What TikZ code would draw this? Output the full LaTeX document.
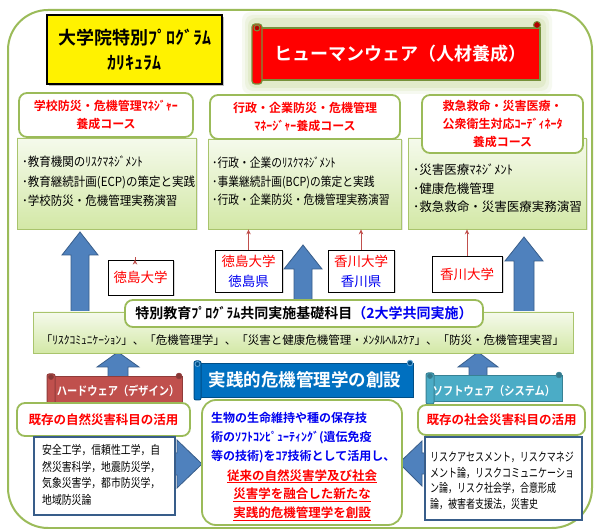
\documentclass[tikz,border=0pt]{standalone}
\usepackage{fontspec}
\setmainfont{Noto Sans CJK JP}[BoldFont={Noto Sans CJK JP Bold}]
\newfontfamily\narrowf{Noto Sans CJK JP}[FakeStretch=0.82]
\newfontfamily\narrowff{Noto Sans CJK JP}[FakeStretch=0.75]
\newfontfamily\narrowm{Noto Sans CJK JP}[FakeStretch=0.86]
\newfontfamily\narrowl{Noto Sans CJK JP}[FakeStretch=0.92]
\newfontfamily\narrowb{Noto Sans CJK JP Bold}[FakeStretch=0.85]
\usetikzlibrary{shadows,arrows.meta}
\definecolor{fgreen}{HTML}{9BBB59}
\definecolor{gtop}{HTML}{F5FAEC}
\definecolor{gbot}{HTML}{D3E8A6}
\definecolor{cbord}{HTML}{A9C46C}
\definecolor{abl}{HTML}{4F81BD}
\definecolor{abld}{HTML}{385D8A}
\definecolor{hwred}{HTML}{C0504D}
\definecolor{swteal}{HTML}{4BACC6}
\definecolor{bnblue}{HTML}{0070C0}
\definecolor{olivebd}{HTML}{76923C}
\definecolor{glowg}{HTML}{C9DB9F}
\definecolor{tblue}{HTML}{0000F0}
\definecolor{thinred}{HTML}{C0504D}
\newcommand\fsz[2]{\fontsize{#1}{#2}\selectfont}
\tikzset{
  hdr/.style={draw=fgreen, line width=1.8pt, fill=white, rounded corners=8pt, inner sep=0pt, align=center, text=red, font=\bfseries\fsz{12}{18}},
  cont/.style={draw=cbord, line width=0.8pt, top color=gtop, bottom color=gbot, inner sep=0pt, drop shadow={opacity=0.2, shadow xshift=1.5pt, shadow yshift=-1.5pt}},
  ctext/.style={align=left, anchor=west, inner sep=0pt},
  lbl/.style={draw=black, line width=0.8pt, fill=white, inner sep=0pt, align=center, font=\fsz{13.5}{20}, drop shadow={opacity=0.3, shadow xshift=1.5pt, shadow yshift=-1.5pt}},
  thinarr/.style={draw=thinred, line width=1pt, -{Stealth[length=5pt,width=4.5pt]}},
  bigarr/.style={fill=abl, draw=abld, line width=0.8pt},
  wbox/.style={draw=fgreen, line width=1.8pt, fill=white, rounded corners=8pt, inner sep=0pt},
  navybox/.style={draw=abld, line width=1.3pt, fill=white, inner sep=0pt},
  bannertext/.style={inner sep=0pt, text=white},
}
\begin{document}
\begin{tikzpicture}[x=1pt,y=-1pt]
\useasboundingbox (0,0) rectangle (595,529);
\fill[white] (0,0) rectangle (595,529);
\draw[fgreen, line width=2pt, rounded corners=40pt] (8,10) rectangle (592,528);

% big up arrows
\draw[bigarr] (80,232) -- (98,255) -- (89,255) -- (89,318) -- (71,318) -- (71,255) -- (62,255) -- cycle;
\draw[bigarr] (303,245) -- (322,269) -- (312,269) -- (312,305) -- (294,305) -- (294,269) -- (284,269) -- cycle;
\draw[bigarr] (524,237) -- (543,261) -- (534,261) -- (534,316) -- (514,316) -- (514,261) -- (505,261) -- cycle;

% title box
\node[draw=black, line width=2pt, fill=yellow, minimum width=175pt, minimum height=69pt, inner sep=0pt, align=center, font=\bfseries\fsz{18}{25}, drop shadow={opacity=0.5, shadow xshift=2pt, shadow yshift=-2pt}] (title) at (134.5,49.5) {大学院特別ﾌﾟﾛｸﾞﾗﾑ\\ｶﾘｷｭﾗﾑ};

% red scroll banner with glow
\foreach \o/\op in {10/0.15,7/0.2,4/0.3} {
  \fill[glowg, opacity=\op, rounded corners=8pt] ({252-\o},{22-\o}) rectangle ({542+\o},{84+\o});
}
\node[fill=red, draw=olivebd, line width=1.2pt, minimum width=280pt, minimum height=52pt, inner sep=0pt] (human) at (400,54) {};
\draw[fill=red, draw=olivebd, line width=1.2pt, rounded corners=3pt] (252,24) rectangle (262,84);
\draw[fill=red!70!black, draw=olivebd, line width=1pt] (257,28) circle (3);
\draw[fill=red!70!black, draw=olivebd, line width=1pt] (537,25) circle (3.5);
\node[bannertext, font=\bfseries\fsz{18}{20}] (humant) at (human.center) {ヒューマンウェア（人材養成）};

% course content boxes
\node[cont, minimum width=179pt, minimum height=91pt] (lc) at (106.5,183.5) {};
\node[cont, minimum width=193pt, minimum height=90pt] (mc) at (304.5,184) {};
\node[cont, minimum width=178pt, minimum height=91pt] (rc) at (497,183.5) {};
% headers
\node[hdr, minimum width=174pt, minimum height=44pt] (lh) at (106,115) {学校防災・危機管理ﾏﾈｼﾞｬｰ\\養成コース};
\node[hdr, minimum width=190pt, minimum height=44pt] (mh) at (305,117) {行政・企業防災・危機管理\\ﾏﾈｰｼﾞｬｰ養成コース};
\node[hdr, minimum width=161pt, minimum height=58pt] (rh) at (502.5,124) {救急救命・災害医療・\\公衆衛生対応ｺｰﾃﾞｨﾈｰﾀ\\養成コース};
% content texts
\node[ctext, font=\narrowl\fsz{12.5}{19.5}] (lt) at (22,181.5) {･教育機関のﾘｽｸﾏﾈｼﾞﾒﾝﾄ\\･教育継続計画(ECP)の策定と実践\\･学校防災・危機管理実務演習};
\node[ctext, font=\narrowm\fsz{12.5}{18.5}] (mt) at (212,181.5) {･行政・企業のﾘｽｸﾏﾈｼﾞﾒﾝﾄ\\･事業継続計画(BCP)の策定と実践\\･行政・企業防災・危機管理実務演習};
\node[ctext, font=\fsz{12.5}{18.5}] (rt) at (413,188.5) {･災害医療ﾏﾈｼﾞﾒﾝﾄ\\･健康危機管理\\･救急救命・災害医療実務演習};

% university labels
\node[lbl, text=red, minimum width=65pt, minimum height=35pt] (tku) at (140.5,277.5) {徳島大学};
\node[lbl, minimum width=67pt, minimum height=42pt] (tkp) at (248.5,271) {\textcolor{red}{徳島大学}\\\textcolor{tblue}{徳島県}};
\node[lbl, minimum width=66pt, minimum height=42pt] (kgp) at (361,271) {\textcolor{red}{香川大学}\\\textcolor{tblue}{香川県}};
\node[lbl, text=red, minimum width=70pt, minimum height=36pt] (kgu) at (467,274) {香川大学};
\draw[thinarr] (tku.north -| 135,0) -- (tku.north -| 135,0 |- lc.south);
\draw[thinarr] (tkp.north) -- (tkp.north |- mc.south);
\draw[thinarr] (kgp.north) -- (kgp.north |- mc.south);
\draw[thinarr] (kgu.north) -- (kgu.north |- rc.south);

% small up arrows
\draw[bigarr] (118,352) -- (139,367) -- (128,367) -- (128,379) -- (108,379) -- (108,367) -- (97,367) -- cycle;
\draw[bigarr] (478,352) -- (498,367) -- (487,367) -- (487,377) -- (469,377) -- (469,367) -- (458,367) -- cycle;

% common foundation bar
\node[draw=cbord, line width=0.8pt, top color=gtop, bottom color=gbot, minimum width=540pt, minimum height=41pt, inner sep=0pt] (bar) at (303,332.5) {};
\node[inner sep=0pt, font=\fsz{11.5}{14}] (bart) at (302.5,340) {「ﾘｽｸｺﾐｭﾆｹｰｼｮﾝ」、「危機管理学」、「災害と健康危機管理・ﾒﾝﾀﾙﾍﾙｽｹｱ」、「防災・危機管理実習」};
\node[wbox, minimum width=358pt, minimum height=27pt, font=\bfseries\fsz{14}{16}] (common) at (304,313.5) {特別教育ﾌﾟﾛｸﾞﾗﾑ共同実施基礎科目\textcolor{tblue}{（2大学共同実施）}};

% bottom horizontal arrows
\draw[bigarr] (202,464) -- (177,488) -- (177,475) -- (165,475) -- (165,453) -- (177,453) -- (177,440) -- cycle;
\draw[bigarr] (399,463) -- (422,441) -- (422,453) -- (432,453) -- (432,474) -- (422,474) -- (422,486) -- cycle;

% hardware banner
\node[fill=hwred, draw=hwred!75!black, line width=1pt, minimum width=130pt, minimum height=26pt, inner sep=0pt] (hw) at (117,390) {};
\draw[fill=hwred, draw=hwred!75!black, line width=1pt, rounded corners=2pt] (47,374) rectangle (55,405);
\draw[fill=hwred!70!black, draw=hwred!75!black, line width=0.8pt] (51,377) circle (2.5);
\draw[fill=hwred!70!black, draw=hwred!75!black, line width=0.8pt] (179,376) circle (2.8);
\node[bannertext, font=\narrowb\fsz{12}{14}] (hwt) at (118,391) {ハードウェア（デザイン）};

% software banner
\node[fill=swteal, draw=swteal!75!black, line width=1pt, minimum width=131pt, minimum height=26pt, inner sep=0pt] (sw) at (496.5,389) {};
\draw[fill=swteal, draw=swteal!75!black, line width=1pt, rounded corners=2pt] (426,373) rectangle (434,404);
\draw[fill=swteal!70!black, draw=swteal!75!black, line width=0.8pt] (430,376) circle (2.5);
\draw[fill=swteal!70!black, draw=swteal!75!black, line width=0.8pt] (559,375) circle (2.8);
\node[bannertext, font=\narrowb\fsz{12}{14}] (swt) at (494,391) {ソフトウェア（システム）};

% central blue banner
\node[fill=bnblue, draw=bnblue!70!black, line width=1pt, minimum width=215pt, minimum height=34pt, inner sep=0pt] (prac) at (305.5,381) {};
\draw[fill=bnblue, draw=bnblue!70!black, line width=1pt, rounded corners=2pt] (194,361) rectangle (201,400);
\draw[fill=bnblue!70!black, draw=bnblue!60!white, line width=0.8pt] (197.5,364) circle (2.5);
\draw[fill=bnblue!70!black, draw=bnblue!60!white, line width=0.8pt] (410,363) circle (2.8);
\node[bannertext, font=\bfseries\fsz{17.5}{20}] (pract) at (305,380) {実践的危機管理学の創設};

% bottom boxes
\node[wbox, minimum width=173pt, minimum height=33pt, text=red, font=\bfseries\fsz{12.5}{14}] (nat) at (103.5,419.5) {既存の自然災害科目の活用};
\node[navybox, minimum width=141pt, minimum height=78pt] (natc) at (104.5,476) {};
\node[ctext, font=\narrowf\fsz{12}{16.7}] (natt) at (42,475) {安全工学，信頼性工学，自\\然災害科学，地震防災学，\\気象災害学，都市防災学，\\地域防災論};

\node[wbox, minimum width=167pt, minimum height=30pt, text=red, font=\bfseries\fsz{12.5}{14}] (soc) at (501.5,420) {既存の社会災害科目の活用};
\node[navybox, minimum width=157pt, minimum height=83pt] (socc) at (503.5,478.5) {};
\node[ctext, font=\narrowff\fsz{12}{15.5}] (soct) at (430,481) {リスクアセスメント，リスクマネジ\\メント論，リスクコミュニケーショ\\ン論，リスク社会学，合意形成\\論，被害者支援法，災害史};

% central box
\node[wbox, rounded corners=14pt, minimum width=200pt, minimum height=125pt] (core) at (302,462.5) {};
\node[ctext, text=tblue, font=\bfseries\fsz{12}{19.3}] (coret) at (211,437.5) {生物の生命維持や種の保存技\\術のｿﾌﾄｺﾝﾋﾟｭｰﾃｨﾝｸﾞ(遺伝免疫\\等の技術)をｺｱ技術として活用し、};
\node[inner sep=0pt, align=center, text=red, font=\bfseries\fsz{12.5}{18.7}] (corer) at (302,495) {\underline{従来の自然災害学及び社会}\\\underline{災害学を融合した新たな}\\\underline{実践的危機管理学を創設}};
\end{tikzpicture}
\end{document}
